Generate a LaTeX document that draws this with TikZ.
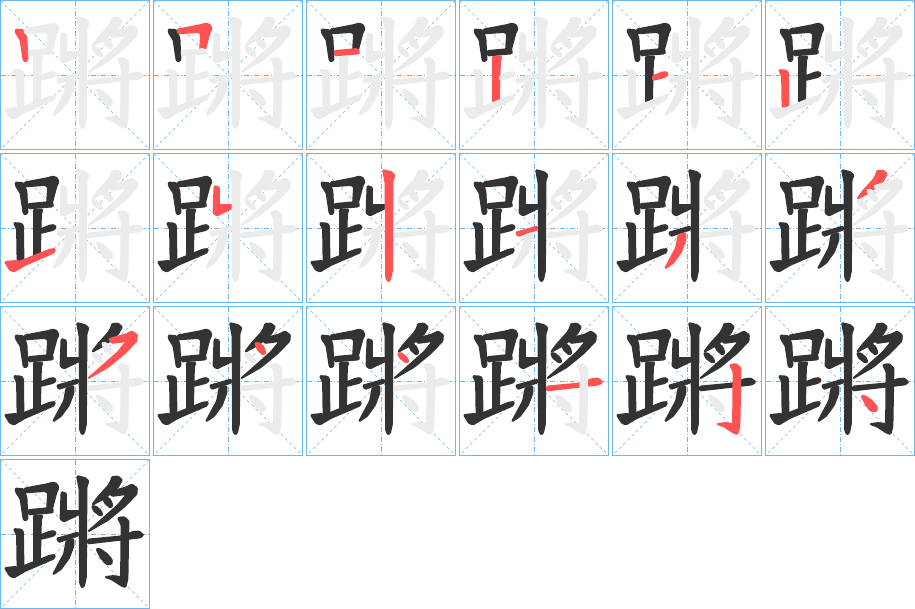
\documentclass[tikz,border=0pt]{standalone}
\definecolor{gridblue}{RGB}{110,182,240}
\definecolor{inkblack}{RGB}{51,51,51}
\definecolor{inkred}{RGB}{255,82,82}
\definecolor{inkgray}{RGB}{235,235,235}
\tikzset{
  cellbox/.style={draw=gridblue, line width=1.3pt},
  guide/.style={draw=gridblue, line width=0.7pt, dash pattern=on 5pt off 2pt on 1pt off 2pt},
  diag/.style={draw=gridblue, line width=0.6pt, dash pattern=on 3pt off 3pt},
  ink/.style={fill=#1, draw=#1, line width=1.8pt, line join=round, rounded corners=0.9pt}
}
\newcommand\drawstroke[2]{%
\ifcase#1\or
\filldraw[ink=#2] (15.5,29.5) -- (23,30) -- (26.5,38) -- (27.5,60) -- (25,61.5) -- (23.5,60) -- (20.5,40) -- (16,33) -- cycle;
\or
\filldraw[ink=#2] (24.5,29.5) -- (48,25) -- (53,23.5) -- (57,25) -- (58.5,29) -- (56.5,33) -- (52,50) -- (47,50.5) -- (48,34) -- (45,32) -- (25,33.5) -- cycle;
\or
\filldraw[ink=#2] (28.5,51) -- (50,49) -- (53,50.5) -- (52.5,53.5) -- (29,55.5) -- cycle;
\or
\filldraw[ink=#2] (33.5,57) -- (42.5,56.5) -- (41,61) -- (40,101) -- (34,103.5) -- (34,60) -- cycle;
\or
\filldraw[ink=#2] (41,76) -- (50,72.5) -- (54,72) -- (56,74.5) -- (53,77) -- (41,80) -- cycle;
\or
\filldraw[ink=#2] (14,70) -- (21,70.5) -- (23,72.5) -- (23.5,106) -- (17.5,108) -- (17,76) -- cycle;
\or
\filldraw[ink=#2] (5,109) -- (14,108) -- (20,108.5) -- (50,96.5) -- (55,96) -- (54,99.5) -- (25,112) -- (14,118.5) -- (10,117) -- cycle;
\or
\filldraw[ink=#2] (61.5,33) -- (66,34.5) -- (66,52) -- (79,52) -- (80.5,54.5) -- (64,62.5) -- (60.5,60) -- (61,45) -- cycle;
\or
\filldraw[ink=#2] (77,17) -- (85,19) -- (88.5,22) -- (86.5,28) -- (86,118) -- (84,127) -- (82,128.5) -- (80,124) -- (79.5,30) -- cycle;
\or
\filldraw[ink=#2] (57,79.5) -- (66,77) -- (78,73.5) -- (78.5,76.5) -- (66,80.5) -- (59,83) -- cycle;
\or
\filldraw[ink=#2] (66.5,82) -- (73.5,80) -- (73.5,87) -- (69,99) -- (61,110) -- (53,115.5) -- (57,108) -- (64,95) -- cycle;
\or
\filldraw[ink=#2] (112,18) -- (118,17.5) -- (122,21) -- (118,28) -- (105,39) -- (92,46) -- (98,38) -- (108,27) -- (111,22) -- cycle;
\or
\filldraw[ink=#2] (109,33) -- (126,28.5) -- (132,25.5) -- (137,29) -- (136.5,35) -- (125,47) -- (108,61) -- (88,72.5) -- (100,62) -- (118,46) -- (127,35) -- (112,37) -- cycle;
\or
\filldraw[ink=#2] (102,37) -- (106,37) -- (111,42) -- (112.5,47) -- (110,48.5) -- (105,44) -- cycle;
\or
\filldraw[ink=#2] (92,47) -- (96,47.5) -- (101,52) -- (102.5,56) -- (100,56.5) -- (94,52) -- cycle;
\or
\filldraw[ink=#2] (88,80.5) -- (120,77.5) -- (133,73) -- (139,72.5) -- (143.5,76) -- (140,78.5) -- (88,84.5) -- cycle;
\or
\filldraw[ink=#2] (118,59) -- (124,58) -- (128.5,62) -- (127.5,120) -- (125.5,128) -- (122,127) -- (112,120.5) -- (105,118) -- (113,117) -- (121,118) -- (121.5,66) -- cycle;
\or
\filldraw[ink=#2] (96.5,90) -- (100,90) -- (107,95) -- (112,101) -- (111.5,105) -- (107,105.5) -- (101,99) -- cycle;
\fi}
\begin{document}
\begin{tikzpicture}[x=1pt,y=-1pt]
\fill[white] (0,0) rectangle (915,609);
\useasboundingbox (0,0) rectangle (915,609);
\foreach \k in {1,...,19}{
  \pgfmathtruncatemacro\col{mod(\k-1,6)}
  \pgfmathtruncatemacro\row{(\k-1)/6}
  \begin{scope}[shift={(153*\col,153*\row)}]
    \draw[diag] (0.75,0.75) -- (149.25,149.25);
    \draw[diag] (149.25,0.75) -- (0.75,149.25);
    \draw[guide] (75,0.75) -- (75,149.25);
    \draw[guide] (0.75,75) -- (149.25,75);
    \draw[cellbox] (0.75,0.75) rectangle (149.25,149.25);
    \foreach \s in {1,...,18}{
      \ifnum\s<\k \def\inkc{inkblack}\else\ifnum\s=\k \def\inkc{inkred}\else\def\inkc{inkgray}\fi\fi
      \drawstroke{\s}{\inkc}
    }
  \end{scope}
}
\end{tikzpicture}
\end{document}
